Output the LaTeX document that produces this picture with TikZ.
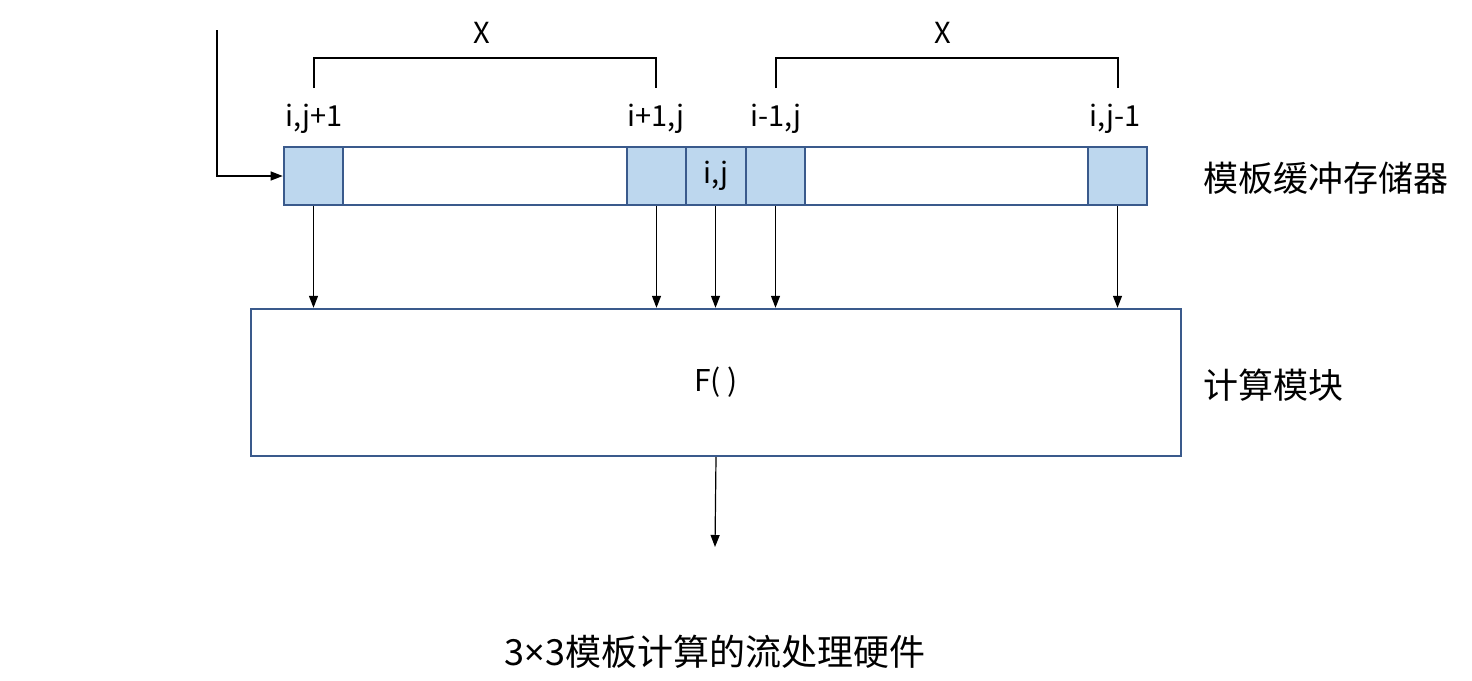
\documentclass[tikz,border=0pt]{standalone}
\usepackage{fontspec}
\setmainfont{Noto Sans CJK SC}
\newfontfamily\latfont{Noto Sans}
\usetikzlibrary{arrows.meta}
\definecolor{cellfill}{HTML}{BDD7EE}
\definecolor{celledge}{HTML}{3A5A8C}
\tikzset{
  cell/.style={draw=celledge, line width=2.6pt, fill=cellfill, minimum height=58pt, inner sep=0pt, font=\fontsize{29}{32}\selectfont},
  gap/.style={draw=celledge, line width=2.6pt, fill=white, minimum height=58pt, inner sep=0pt},
  fbox/.style={draw=celledge, line width=2.4pt, fill=white, minimum width=930pt, minimum height=147pt, inner sep=0pt, font=\fontsize{30}{34}\selectfont},
  arr/.style={line width=1.2pt, -{Triangle[length=12pt,width=9pt]}},
  thin/.style={line width=1.2pt},
  lab/.style={font=\fontsize{29}{32}\selectfont, inner sep=0pt},
  cjk/.style={font=\fontsize{35}{40}\selectfont, inner sep=0pt, anchor=west}
}
\begin{document}
\begin{tikzpicture}[x=1pt,y=-1pt]
\useasboundingbox (0,0) rectangle (1472,680);
% buffer cells
\node[gap, minimum width=284pt] (w1) at (485,176) {};
\node[gap, minimum width=283pt] (w2) at (946.5,176) {};
\node[cell, minimum width=59pt] (c1) at (313.5,176) {};
\node[cell, minimum width=59pt] (c2) at (656.5,176) {};
\node[cell, minimum width=60pt] (c3) at (716,176) {i,j};
\node[cell, minimum width=59pt] (c4) at (775.5,176) {};
\node[cell, minimum width=59pt] (c5) at (1117.5,176) {};
% labels above
\node[lab] (l1) at (314,119) {i,j+1};
\node[lab] (l2) at (656,119) {i+1,j};
\node[lab] (l4) at (776,119) {i-1,j};
\node[lab] (l5) at (1115,119) {i,j-1};
% brackets
\coordinate (b1a) at (314,88);
\coordinate (b1b) at (656,88);
\coordinate (b2a) at (776,88);
\coordinate (b2b) at (1118,88);
\draw[thin] (b1a) -- ++(0,-30) -| (b1b);
\draw[thin] (b2a) -- ++(0,-30) -| (b2b);
\node[lab] (x1) at (482,33) {X};
\node[lab] (x2) at (943,33) {X};
% input arrow
\coordinate (in) at (217,30);
\draw[arr] (in) |- (c1.west);
% compute box
\node[fbox] (F) at (716,382.5) {F( )};
\foreach \c in {c1,c2,c4,c5}{
  \draw[arr] (\c.south) -- (\c.south |- F.north);
}
\draw[arr] ([xshift=-0.5pt]c3.south) -- ([xshift=-0.5pt]c3.south |- F.north);
% output
\coordinate (out) at (715,547);
\draw[arr] (F.south -| 716,0) -- (out);
% side labels
\node[cjk] (t1) at (1203,178) {模板缓冲存储器};
\node[cjk] (t2) at (1203,385) {计算模块};
\node[font=\fontsize{36}{40}\selectfont, inner sep=0pt] (title) at (715,652) {3{\latfont ×}3模板计算的流处理硬件};
\end{tikzpicture}
\end{document}
